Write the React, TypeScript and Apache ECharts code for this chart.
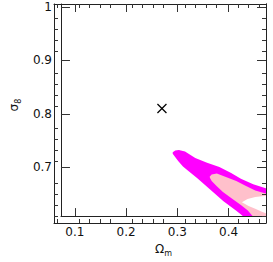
import React, { useEffect, useRef } from "react";
import * as echarts from "echarts";

// Axis ranges and tick values
const xRange = [0.073, 0.473];
const yRange = [0.608, 1.006];
const xMajorTicks = [0.1, 0.2, 0.3, 0.4];
const xMinorTicks = [0.08, 0.12, 0.14, 0.16, 0.18, 0.22, 0.24, 0.26, 0.28, 0.32, 0.34, 0.36, 0.38, 0.42, 0.44, 0.46];
const yMajorTicks = [0.7, 0.8, 0.9, 1.0];
const yMinorTicks = [0.62, 0.64, 0.66, 0.68, 0.72, 0.74, 0.76, 0.78, 0.82, 0.84, 0.86, 0.88, 0.92, 0.94, 0.96, 0.98];

// Fiducial point (Omega_m, sigma_8)
const fiducialPoint = [0.27, 0.81];

// Outer (2-sigma) confidence contour, magenta
const contourOuter = [
  [0.291, 0.728], [0.296, 0.731], [0.303, 0.732], [0.315, 0.729], [0.335, 0.717],
  [0.358, 0.708], [0.382, 0.7], [0.405, 0.689], [0.424, 0.678], [0.448, 0.668],
  [0.474, 0.66], [0.499, 0.652], [0.52, 0.648], [0.52, 0.58], [0.442, 0.58],
  [0.435, 0.602], [0.428, 0.608], [0.415, 0.618], [0.39, 0.636], [0.364, 0.658],
  [0.339, 0.679], [0.33, 0.686], [0.321, 0.693], [0.311, 0.701], [0.302, 0.711],
  [0.295, 0.72], [0.291, 0.725],
];

// Inner (1-sigma) confidence contour, pink
const contourInner = [
  [0.363, 0.682], [0.367, 0.686], [0.377, 0.688], [0.396, 0.681], [0.415, 0.674],
  [0.433, 0.665], [0.452, 0.656], [0.474, 0.65], [0.52, 0.64], [0.52, 0.58],
  [0.455, 0.598], [0.447, 0.608], [0.437, 0.619], [0.424, 0.629], [0.405, 0.642],
  [0.389, 0.653], [0.377, 0.664], [0.367, 0.674], [0.364, 0.679],
];

// Region between the two arms (outside both contours)
const contourGap = [
  [0.426, 0.634], [0.437, 0.64], [0.452, 0.644], [0.474, 0.646], [0.52, 0.647],
  [0.52, 0.606], [0.474, 0.613], [0.465, 0.616], [0.452, 0.622], [0.439, 0.627],
];

const FONT = "DejaVu Sans";
const AXIS_COLOR = "#222";
const TICK_COLOR = "#333";

function polySeries(points: number[][], color: string, z: number) {
  return {
    type: "custom",
    xAxisIndex: 0,
    yAxisIndex: 0,
    clip: true,
    silent: true,
    z,
    data: [points[0]],
    renderItem: (_params: any, api: any) => ({
      type: "polygon",
      shape: { points: points.map((p) => api.coord(p)) },
      style: { fill: color, stroke: null },
    }),
  };
}

export default function App() {
  const ref = useRef<HTMLDivElement>(null);
  useEffect(() => {
    if (!ref.current) return;
    const chart = echarts.init(ref.current, undefined, { renderer: "svg" });
    const grid = { left: 54, right: 7, top: 4, bottom: 39 };
    const fmt = (v: number) => (Math.abs(v - 1) < 1e-9 ? "1" : v.toFixed(1));
    const baseX = (gridIndex: number, position: string, ticks: number[], len: number, withLabels: boolean) => ({
      type: "value",
      gridIndex,
      position,
      min: xRange[0],
      max: xRange[1],
      z: 10,
      axisLine: { show: true, onZero: false, lineStyle: { color: AXIS_COLOR, width: 1 } },
      axisTick: { show: true, inside: true, length: len, customValues: ticks, lineStyle: { color: TICK_COLOR, width: 1 } },
      axisLabel: withLabels
        ? { show: true, customValues: ticks, margin: 10, formatter: fmt, color: "#111", fontFamily: FONT, fontSize: 12 }
        : { show: false },
      splitLine: { show: false },
    });
    const baseY = (gridIndex: number, position: string, ticks: number[], len: number, withLabels: boolean) => ({
      type: "value",
      gridIndex,
      position,
      min: yRange[0],
      max: yRange[1],
      z: 10,
      axisLine: { show: true, onZero: false, lineStyle: { color: AXIS_COLOR, width: 1 } },
      axisTick: { show: true, inside: true, length: len, customValues: ticks, lineStyle: { color: TICK_COLOR, width: 1 } },
      axisLabel: withLabels
        ? { show: true, customValues: ticks, margin: 9, formatter: fmt, color: "#111", fontFamily: FONT, fontSize: 12 }
        : { show: false },
      splitLine: { show: false },
    });

    const rich = {
      a: { fontFamily: FONT, fontSize: 12, color: "#111", lineHeight: 14, verticalAlign: "top" },
      b: { fontFamily: FONT, fontSize: 8, color: "#111", lineHeight: 10, padding: [6, 0, 0, 0], verticalAlign: "top" },
    };
    const xMain: any = baseX(0, "bottom", xMajorTicks, 8, true);
    xMain.name = "{a|Ω}{b|m}";
    xMain.nameLocation = "middle";
    xMain.nameGap = 25;
    xMain.nameTextStyle = { rich };
    const yMain: any = baseY(0, "left", yMajorTicks, 9, true);
    yMain.name = "{a|σ}{b|8}";
    yMain.nameLocation = "middle";
    yMain.nameRotate = 90;
    yMain.nameGap = 38;
    yMain.nameTextStyle = { padding: [0, 0, 0, 10], rich };

    chart.setOption({
      animation: false,
      backgroundColor: "#fff",
      grid: [{ ...grid }, { ...grid }],
      xAxis: [
        xMain,
        baseX(0, "top", xMajorTicks, 8, false),
        baseX(1, "bottom", xMinorTicks, 4, false),
        baseX(1, "top", xMinorTicks, 4, false),
      ],
      yAxis: [
        yMain,
        baseY(0, "right", yMajorTicks, 9, false),
        baseY(1, "left", yMinorTicks, 4, false),
        baseY(1, "right", yMinorTicks, 4, false),
      ],
      series: [
        polySeries(contourOuter, "#ff00ff", 2),
        polySeries(contourInner, "#ffc0cb", 3),
        polySeries(contourGap, "#ffffff", 4),
        {
          type: "custom",
          xAxisIndex: 0,
          yAxisIndex: 0,
          silent: true,
          z: 5,
          data: [fiducialPoint],
          renderItem: (_params: any, api: any) => {
            const c = api.coord([api.value(0), api.value(1)]);
            const r = 4.5;
            return {
              type: "group",
              children: [
                { type: "line", shape: { x1: c[0] - r, y1: c[1] - r, x2: c[0] + r, y2: c[1] + r }, style: { stroke: "#000", lineWidth: 1.2 } },
                { type: "line", shape: { x1: c[0] - r, y1: c[1] + r, x2: c[0] + r, y2: c[1] - r }, style: { stroke: "#000", lineWidth: 1.2 } },
              ],
            };
          },
        },
      ],
    });
    return () => chart.dispose();
  }, []);
  return <div ref={ref} style={{ position: "fixed", left: 0, top: 0, width: 273, height: 262, background: "#fff" }} />;
}
